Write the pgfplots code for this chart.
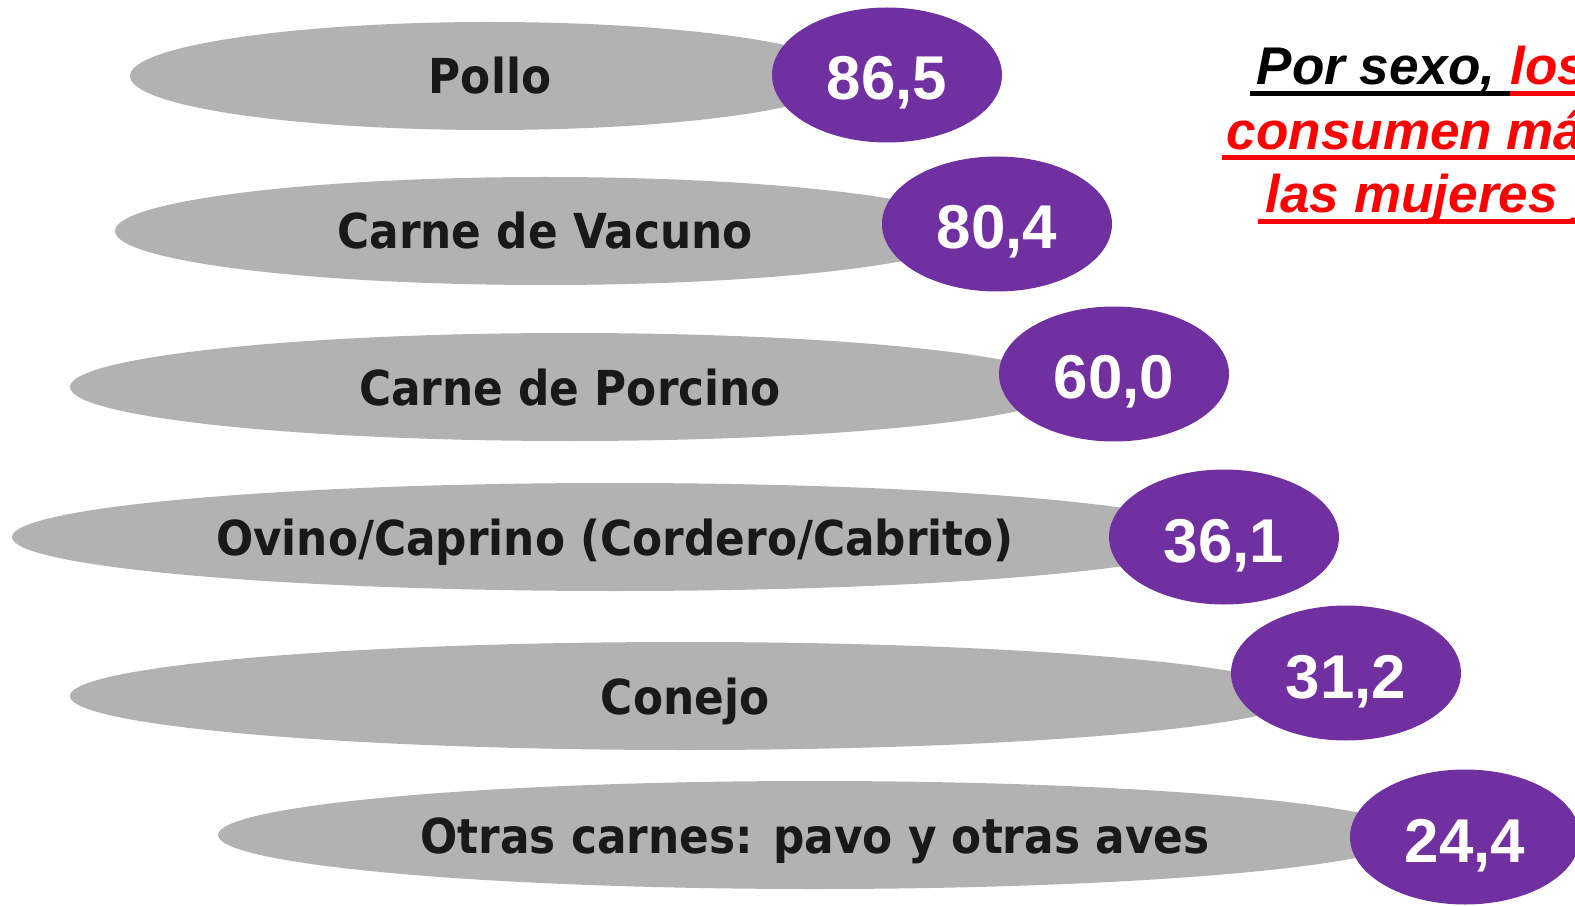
\documentclass[border=0pt]{standalone}
\usepackage{pgfplots}
\pgfplotsset{compat=1.18}
\usepackage{pgfplotstable}
\usepackage{fontspec}
\setmainfont{Liberation Sans}
\newfontfamily\labfont[FakeStretch=0.91]{DejaVu Sans}
\definecolor{ellgray}{HTML}{B2B2B2}
\definecolor{ellpurple}{HTML}{7030A0}
\definecolor{txtred}{HTML}{FF0000}
\pgfdeclareplotmark{purpleell}{%
  \pgfpathellipse{\pgfpointorigin}{\pgfpoint{1.15cm}{0pt}}{\pgfpoint{0pt}{0.675cm}}%
  \pgfusepathqfill}
\pgfplotstableread[col sep=comma]{
label,value,gx,gy,grx,gry,px,py
Pollo,86.5,490,76,360,54,887,75
Carne de Vacuno,80.4,545,231,430,54,997,224
Carne de Porcino,60.0,570,387,500,54,1114,374
Ovino/Caprino (Cordero/Cabrito),36.1,615,537,603,54,1224,537
Conejo,31.2,685,696,615,54,1346,673
Otras carnes: pavo y otras aves,24.4,815,835,597,54,1465,837
}\datatable
\begin{document}
\begin{tikzpicture}
\useasboundingbox (0,0) rectangle (15.75,9.05);
\clip (0,0) rectangle (15.75,9.05);
\begin{axis}[
  at={(0,0)}, anchor=south west,
  scale only axis, width=15.75cm, height=9.05cm,
  xmin=0, xmax=1575, ymin=-905, ymax=0,
  hide axis, clip=false,
]
\pgfplotsinvokeforeach{0,...,5}{
  \pgfplotstablegetelem{#1}{gx}\of\datatable \let\gx\pgfplotsretval
  \pgfplotstablegetelem{#1}{gy}\of\datatable \let\gy\pgfplotsretval
  \pgfplotstablegetelem{#1}{grx}\of\datatable \let\grx\pgfplotsretval
  \pgfplotstablegetelem{#1}{gry}\of\datatable \let\gry\pgfplotsretval
  \pgfplotstablegetelem{#1}{label}\of\datatable \let\glab\pgfplotsretval
  \edef\cmd{\noexpand\fill[ellgray] (axis cs:\gx,-\gy) ellipse [x radius=\grx, y radius=\gry];
    \noexpand\node[anchor=base, inner sep=0pt, text=black!90, font=\noexpand\labfont\noexpand\bfseries\noexpand\fontsize{13.7pt}{16pt}\noexpand\selectfont] at (axis cs:\gx,-\gy-18) {\glab};}
  \cmd
}
\addplot[only marks, mark=purpleell, color=ellpurple,
  point meta=explicit,
  nodes near coords={\pgfmathprintnumber[assume math mode=true,use comma,fixed,fixed zerofill,precision=1]{\pgfplotspointmeta}},
  nodes near coords align={center},
  every node near coord/.append style={anchor=base, yshift=-0.25cm, text=white, inner sep=0pt,
    font=\bfseries\fontsize{17.6pt}{21pt}\selectfont},
] table[x=px, y expr=-\thisrow{py}, meta=value] {\datatable};
% right-hand text block
\fill[black] (axis cs:1250,-91) rectangle (axis cs:1510,-96);
\fill[txtred] (axis cs:1510,-91) rectangle (axis cs:1700,-96);
\fill[txtred] (axis cs:1222,-155) rectangle (axis cs:1700,-160);
\fill[txtred] (axis cs:1258,-219) rectangle (axis cs:1700,-224);
\node[anchor=base west, inner sep=0pt, font=\bfseries\itshape\fontsize{15.1pt}{18pt}\selectfont] at (axis cs:1256,-85) {Por sexo, \textcolor{txtred}{los hombres}};
\node[anchor=base west, inner sep=0pt, text=txtred, font=\bfseries\itshape\fontsize{15.1pt}{18pt}\selectfont] at (axis cs:1226,-150) {consumen más carne};
\node[anchor=base west, inner sep=0pt, text=txtred, font=\bfseries\itshape\fontsize{15.1pt}{18pt}\selectfont] at (axis cs:1265,-213) {las mujeres y};
\end{axis}
\end{tikzpicture}
\end{document}
